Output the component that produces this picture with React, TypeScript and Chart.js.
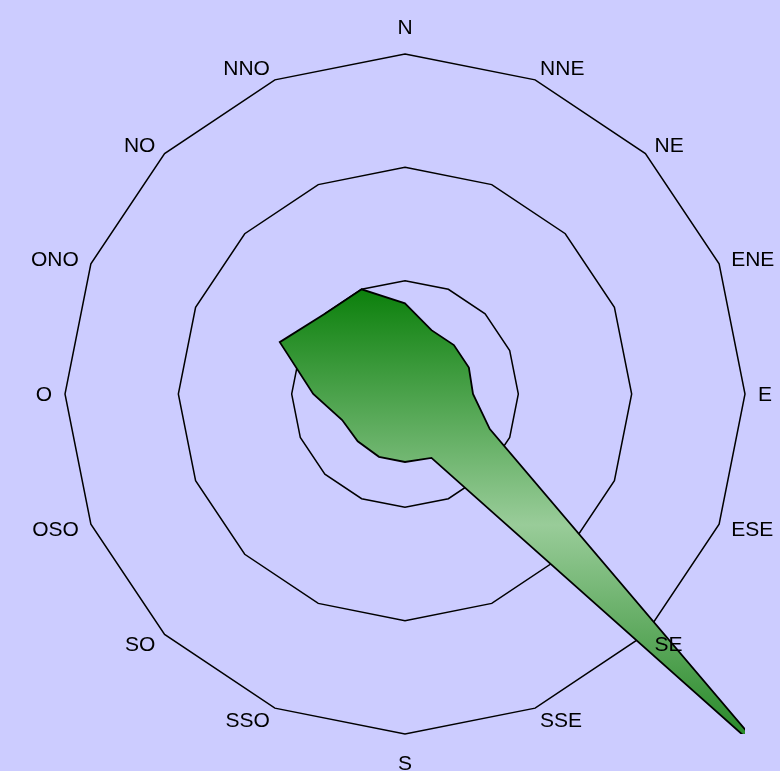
import React, { useEffect, useRef } from "react";
import { Chart, registerables } from "chart.js";

Chart.register(...registerables);

const directions = ["N", "NNE", "NE", "ENE", "E", "ESE", "SE", "SSE", "S", "SSO", "SO", "OSO", "O", "ONO", "NO", "NNO"];
const windValues = [4.0, 3.05, 3.05, 3.05, 3.0, 4.05, 22.85, 3.05, 3.0, 3.0, 2.95, 3.0, 4.05, 5.98, 5.0, 5.0];
const scaleMax = 15;
const scaleStep = 5;

const BG = "#CCCCFF";
const FONT = '21px "Liberation Sans", Arial, sans-serif';

const labelPlugin = {
  id: "dirLabels",
  afterDraw(chart: any) {
    const r = chart.scales.r;
    if (!r) return;
    const ctx = chart.ctx;
    ctx.save();
    ctx.font = FONT;
    ctx.fillStyle = "#000";
    ctx.textBaseline = "middle";
    const n = directions.length;
    for (let i = 0; i < n; i++) {
      let extra = 13;
      if (i === 0) extra = 27;
      if (i === n / 2) extra = 29;
      const p = r.getPointPosition(i, r.drawingArea + extra);
      if (i === 0 || i === n / 2) ctx.textAlign = "center";
      else if (i < n / 2) ctx.textAlign = "left";
      else ctx.textAlign = "right";
      ctx.fillText(directions[i], p.x, p.y + 1.5);
    }
    ctx.restore();
  },
};

export default function App() {
  const ref = useRef<HTMLCanvasElement | null>(null);
  useEffect(() => {
    if (!ref.current) return;
    const chart = new Chart(ref.current, {
      type: "radar",
      data: {
        labels: directions,
        datasets: [
          {
            data: windValues,
            fill: true,
            clip: 0,
            borderColor: "#000",
            borderWidth: 1.8,
            pointRadius: 0,
            pointHoverRadius: 0,
            tension: 0,
            backgroundColor: (c: any) => {
              const ch = c.chart;
              const r = ch.scales && ch.scales.r;
              if (!r || !ch.ctx) return "#99CC99";
              const ys = windValues.map((v, i) => r.getPointPosition(i, r.getDistanceFromCenterForValue(v)).y);
              const top = Math.min(...ys);
              const bot = Math.max(...ys);
              if (!isFinite(top) || !isFinite(bot) || bot <= top) return "#99CC99";
              const g = ch.ctx.createLinearGradient(0, top, 0, bot);
              g.addColorStop(0, "#0C800C");
              g.addColorStop(0.5, "#99CC99");
              g.addColorStop(1, "#1C821C");
              return g;
            },
          } as any,
        ],
      },
      options: {
        responsive: false,
        animation: false,
        events: [],
        layout: { padding: { left: 65, right: 35, top: 54, bottom: 37 } },
        plugins: { legend: { display: false }, tooltip: { enabled: false }, title: { display: false } },
        scales: {
          r: {
            min: 0,
            max: scaleMax,
            beginAtZero: true,
            ticks: { display: false, stepSize: scaleStep },
            grid: { color: "#000", lineWidth: 1.5, circular: false },
            angleLines: { display: false },
            pointLabels: { display: false },
          },
        },
      },
      plugins: [labelPlugin],
    });
    return () => chart.destroy();
  }, []);
  return (
    <div style={{ position: "absolute", left: 0, top: 0, width: 780, height: 771, background: BG, overflow: "hidden" }}>
      <canvas ref={ref} width={780} height={771} style={{ width: 780, height: 771, display: "block" }} />
    </div>
  );
}
